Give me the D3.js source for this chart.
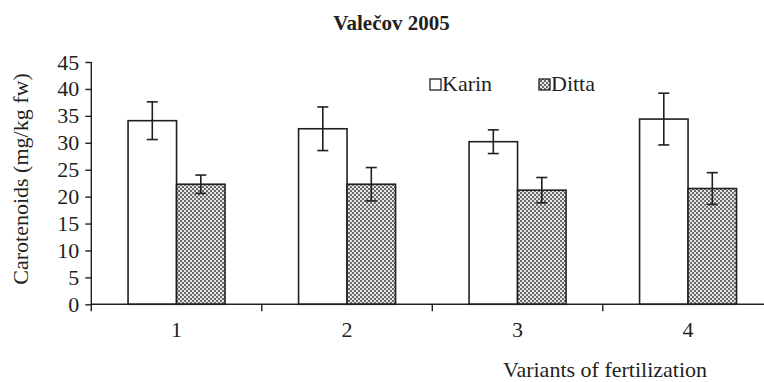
<!DOCTYPE html>
<html>
<head>
<meta charset="utf-8">
<script src="https://cdn.jsdelivr.net/npm/d3@7"></script>
<style>
  html, body { margin: 0; padding: 0; background: #fff; }
  svg { display: block; }
</style>
</head>
<body>
<svg id="chart" width="764" height="382"></svg>
<script>
// ---- data ----
const categories = ["1", "2", "3", "4"];
const seriesNames = ["Karin", "Ditta"];
const karinValues = [34.1, 32.6, 30.2, 34.4];
const karinErrors = [3.5, 4.05, 2.2, 4.8];
const dittaValues = [22.3, 22.3, 21.2, 21.5];
const dittaErrors = [1.7, 3.1, 2.35, 2.95];
const yTicks = [0, 5, 10, 15, 20, 25, 30, 35, 40, 45];
const titleText = "Valečov 2005";
const yLabelText = "Carotenoids (mg/kg fw)";
const xLabelText = "Variants of fertilization";

const series = [
  { name: seriesNames[0], values: karinValues, errors: karinErrors },
  { name: seriesNames[1], values: dittaValues, errors: dittaErrors }
];

// ---- layout ----
const FONT = "'Liberation Serif', 'Times New Roman', serif";
const svg = d3.select("#chart");
const ink = "#231f20";
const x0 = 91.3, x1 = 773.3, yBase = 304.3, yTop = 62;

const x = d3.scaleBand().domain(categories).range([x0, x1]).paddingInner(0).paddingOuter(0);
const xs = d3.scaleBand().domain(seriesNames).range([0, x.bandwidth()]).paddingInner(0).paddingOuter(0.758);
const y = d3.scaleLinear().domain([0, 45]).range([yBase, yTop]);

// pattern for Ditta
const defs = svg.append("defs");
const pat = defs.append("pattern").attr("id", "checker").attr("patternUnits", "userSpaceOnUse")
  .attr("width", 4).attr("height", 4);
pat.append("rect").attr("width", 4).attr("height", 4).attr("fill", "#e6e6e6");
pat.append("rect").attr("x", 0).attr("y", 0).attr("width", 2).attr("height", 2).attr("fill", "#6a6a6a");
pat.append("rect").attr("x", 2).attr("y", 2).attr("width", 2).attr("height", 2).attr("fill", "#6a6a6a");

const fills = { Karin: "#ffffff", Ditta: "url(#checker)" };

function txt(sel, size, weight) {
  return sel.attr("font-family", FONT).style("font-family", FONT)
    .style("font-size", size + "px").style("font-weight", weight || "normal").attr("fill", ink);
}

// title
txt(svg.append("text").attr("x", 391.5).attr("y", 30).attr("text-anchor", "middle"), 21, "bold")
  .text(titleText);

// bars
const groups = svg.append("g").selectAll("g").data(series).join("g");
groups.each(function(s) {
  const g = d3.select(this);
  categories.forEach((c, i) => {
    const bx = x(c) + xs(s.name);
    const bw = xs.bandwidth();
    g.append("rect").attr("x", bx).attr("y", y(s.values[i]))
      .attr("width", bw).attr("height", y(0) - y(s.values[i]))
      .attr("fill", fills[s.name]).attr("stroke", ink).attr("stroke-width", 1.6);
    const cx = bx + bw / 2;
    const hi = y(s.values[i] + s.errors[i]), lo = y(s.values[i] - s.errors[i]);
    g.append("line").attr("x1", cx).attr("x2", cx).attr("y1", hi).attr("y2", lo)
      .attr("stroke", ink).attr("stroke-width", 1.6);
    [hi, lo].forEach(yy => g.append("line").attr("x1", cx - 5.5).attr("x2", cx + 5.5)
      .attr("y1", yy).attr("y2", yy).attr("stroke", ink).attr("stroke-width", 1.6));
  });
});

// y axis
const yAxis = d3.axisLeft(y).tickValues(yTicks).tickSize(6).tickPadding(6).tickFormat(d3.format("d"));
const gy = svg.append("g").attr("transform", `translate(${x0},0)`).call(yAxis);
gy.attr("font-family", null).attr("font-size", null);
gy.select(".domain").remove();
gy.append("line").attr("x1", 0).attr("x2", 0).attr("y1", y(45)).attr("y2", yBase + 7)
  .attr("stroke", ink).attr("stroke-width", 1.4);
gy.selectAll(".tick line").attr("stroke", ink).attr("stroke-width", 1.4);
txt(gy.selectAll(".tick text"), 22);

// x axis
const xAxis = d3.axisBottom(x).tickSize(0).tickPadding(26);
const gx = svg.append("g").attr("transform", `translate(0,${yBase})`).call(xAxis);
gx.attr("font-family", null).attr("font-size", null);
gx.select(".domain").remove();
gx.append("line").attr("x1", x0).attr("x2", x1).attr("y1", 0).attr("y2", 0)
  .attr("stroke", ink).attr("stroke-width", 1.4);
gx.selectAll(".bnd").data(categories.slice(1)).join("line").attr("class", "bnd")
  .attr("x1", d => x(d)).attr("x2", d => x(d)).attr("y1", 0).attr("y2", 7)
  .attr("stroke", ink).attr("stroke-width", 1.4);
txt(gx.selectAll(".tick text"), 22).attr("dy", "0.3em");

// axis titles
txt(svg.append("text").attr("transform", "translate(28,179) rotate(-90)").attr("text-anchor", "middle"), 22)
  .text(yLabelText);
txt(svg.append("text").attr("x", 605).attr("y", 377).attr("text-anchor", "middle"), 22)
  .text(xLabelText);

// legend
const legendPos = [{ bx: 430, tx: 442 }, { bx: 539, tx: 551 }];
const lg = svg.append("g").selectAll("g").data(series).join("g");
lg.append("rect").attr("x", (d, i) => legendPos[i].bx).attr("y", 79).attr("width", 11).attr("height", 11)
  .attr("fill", d => fills[d.name]).attr("stroke", ink).attr("stroke-width", 1.3);
txt(lg.append("text").attr("x", (d, i) => legendPos[i].tx).attr("y", 91), 22)
  .text(d => d.name);
</script>
</body>
</html>
